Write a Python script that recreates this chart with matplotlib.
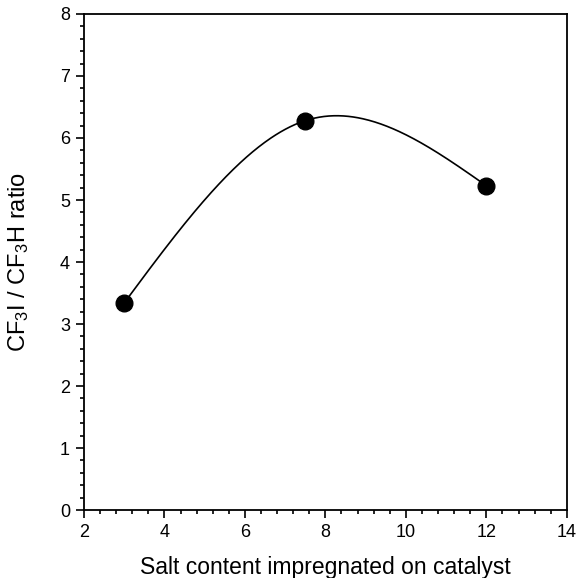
import matplotlib
matplotlib.use("Agg")
import matplotlib.pyplot as plt
import numpy as np
from matplotlib.ticker import MultipleLocator

plt.rcParams["font.family"] = ["Liberation Sans", "DejaVu Sans"]
plt.rcParams["mathtext.default"] = "regular"

salt = [3.0, 7.5, 12.0]
ratio = [3.34, 6.28, 5.23]


def natural_spline(x, y, xs):
    """Evaluate a natural cubic spline through (x, y) at xs."""
    x = np.asarray(x, float)
    y = np.asarray(y, float)
    n = len(x)
    h = np.diff(x)
    a = np.zeros((n, n))
    b = np.zeros(n)
    a[0, 0] = a[-1, -1] = 1.0
    for i in range(1, n - 1):
        a[i, i - 1] = h[i - 1]
        a[i, i] = 2 * (h[i - 1] + h[i])
        a[i, i + 1] = h[i]
        b[i] = 6 * ((y[i + 1] - y[i]) / h[i] - (y[i] - y[i - 1]) / h[i - 1])
    m = np.linalg.solve(a, b)
    out = np.empty_like(xs)
    for k, t in enumerate(xs):
        i = min(max(np.searchsorted(x, t) - 1, 0), n - 2)
        hi = h[i]
        l, r = x[i + 1] - t, t - x[i]
        out[k] = (m[i] * l**3 + m[i + 1] * r**3) / (6 * hi) \
            + (y[i] / hi - m[i] * hi / 6) * l + (y[i + 1] / hi - m[i + 1] * hi / 6) * r
    return out


fig = plt.figure(figsize=(5.79, 5.78), dpi=100)
ax = fig.add_axes([0.145, 0.1176, 0.834, 0.8582])

xs = np.linspace(salt[0], salt[-1], 300)
ax.plot(xs, natural_spline(salt, ratio, xs), color="black", lw=1.2, zorder=2)
ax.plot(salt, ratio, "o", color="black", ms=12, zorder=3)

ax.set_xlim(2, 14)
ax.set_ylim(0, 8)
ax.xaxis.set_major_locator(MultipleLocator(2))
ax.xaxis.set_minor_locator(MultipleLocator(0.4))
ax.yaxis.set_major_locator(MultipleLocator(1))
ax.yaxis.set_minor_locator(MultipleLocator(0.2))
ax.tick_params(which="both", direction="out", top=False, right=False,
               labelsize=13, width=1.2, colors="black")
ax.tick_params(which="major", length=6, pad=4)
ax.tick_params(which="minor", length=3)
for s in ax.spines.values():
    s.set_linewidth(1.3)

ax.set_xlabel("Salt content impregnated on catalyst", fontsize=16.5, labelpad=11)
ax.set_ylabel("CF$_3$I / CF$_3$H ratio", fontsize=17, labelpad=21)

fig.savefig("out.png", dpi=100)
